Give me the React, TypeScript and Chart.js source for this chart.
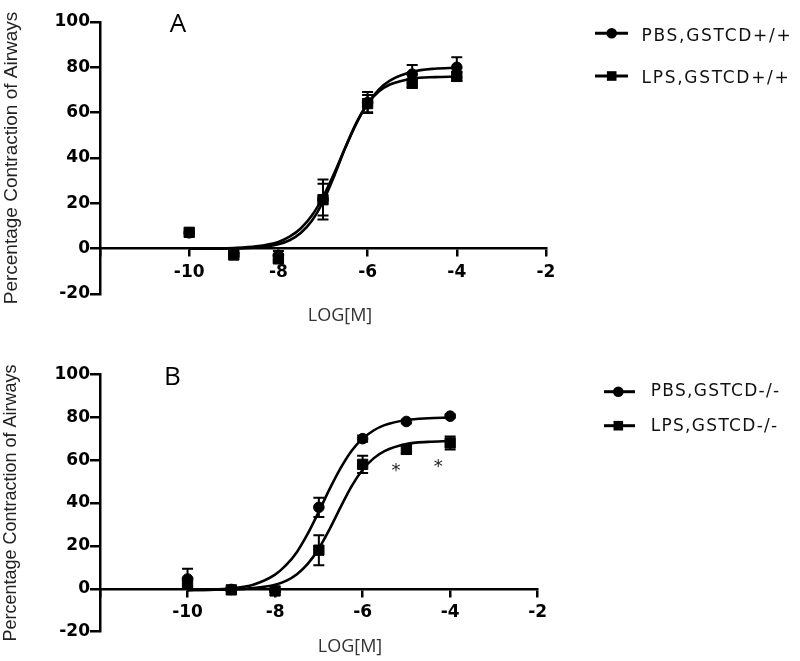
import React, { useEffect, useRef } from 'react';
import { Chart, registerables } from 'chart.js';

Chart.register(...registerables);

// ---------- data ----------
const doses = [-10, -9, -8, -7, -6, -5, -4];

const pbsA = [7.0, -2.5, -3.0, 21.7, 64.5, 77.0, 80.0];
const pbsAErr = [0, 0.8, 2.0, 8.8, 4.6, 4.0, 4.5];
const lpsA = [7.2, -2.8, -4.5, 21.6, 64.0, 73.0, 76.0];
const lpsAErr = [0, 0.8, 1.5, 7.0, 3.8, 2.0, 2.0];

const pbsB = [4.6, -0.3, -0.8, 38.0, 70.0, 78.0, 80.5];
const pbsBErr = [4.7, 0.5, 0.5, 4.5, 1.5, 0.8, 0.8];
const lpsB = [3.0, -0.5, -1.0, 18.0, 58.0, 65.0, 68.0];
const lpsBErr = [2.0, 0.5, 0.5, 7.0, 4.0, 2.0, 3.0];

const curveX = [-10, -9.5, -9, -8.5, -8, -7.75, -7.5, -7.25, -7, -6.75, -6.5, -6.25, -6, -5.75, -5.5, -5, -4.5, -4];
const pbsACurve = [0, 0.1, 0.3, 1.0, 3.0, 5.3, 8.9, 14.6, 22.8, 33.2, 44.6, 55.3, 63.9, 70.1, 74.1, 78.0, 79.4, 79.8];
const lpsACurve = [0, 0, 0.1, 0.5, 2.0, 3.7, 6.9, 12.3, 20.7, 32.0, 44.5, 55.6, 63.9, 69.3, 72.4, 75.0, 75.7, 75.9];
const pbsBCurve = [-0.6, -0.4, 0.2, 1.9, 6.6, 11.0, 17.2, 25.8, 36.0, 46.7, 56.4, 64.4, 70.0, 73.8, 76.3, 78.7, 79.5, 79.8];
const lpsBCurve = [-0.6, -0.5, -0.3, 0.3, 1.9, 3.7, 6.8, 11.7, 18.8, 28.0, 38.2, 47.9, 55.5, 60.8, 64.2, 67.5, 68.5, 68.9];

const xTickValues = [-12, -10, -8, -6, -4, -2];
const yTickValues = [-20, 0, 20, 40, 60, 80, 100];

const labelsA = ['PBS,GSTCD+/+', 'LPS,GSTCD+/+'];
const labelsB = ['PBS,GSTCD-/-', 'LPS,GSTCD-/-'];

const starsB = [
  { x: -5.24, y: 57.5 },
  { x: -4.27, y: 59.5 },
];

const yTitle = 'Percentage Contraction of Airways';
const xTitle = 'LOG[M]';

// ---------- plugins ----------
const errorBarPlugin = {
  id: 'errorBars',
  beforeDatasetsDraw(chart: any) {
    const { ctx } = chart;
    const xs = chart.scales.x;
    const ys = chart.scales.y;
    ctx.save();
    ctx.strokeStyle = '#000';
    ctx.lineWidth = 2;
    chart.data.datasets.forEach((ds: any, di: number) => {
      if (!ds.errors || !chart.isDatasetVisible(di)) return;
      ds.data.forEach((p: any, i: number) => {
        const e = ds.errors[i];
        if (!e) return;
        const px = xs.getPixelForValue(p.x);
        const yt = ys.getPixelForValue(p.y + e);
        const yb = ys.getPixelForValue(p.y - e);
        ctx.beginPath();
        ctx.moveTo(px, yt);
        ctx.lineTo(px, yb);
        ctx.moveTo(px - 5.5, yt);
        ctx.lineTo(px + 5.5, yt);
        ctx.moveTo(px - 5.5, yb);
        ctx.lineTo(px + 5.5, yb);
        ctx.stroke();
      });
    });
    ctx.restore();
  },
};

type LegendPos = {
  x0: number; x1: number; mx: number; symY: number[];
  textX: number; textY: number[]; spacing: number;
};

function makeTextPlugin(p: {
  letter: string; letterX: number; letterY: number;
  xTitleX: number; xTitleY: number; stars: { x: number; y: number }[];
  labels: string[]; legend: LegendPos;
}) {
  return {
    id: 'panelText',
    afterDraw(chart: any) {
      const { ctx } = chart;
      ctx.save();
      ctx.textAlign = 'center';
      ctx.textBaseline = 'alphabetic';
      ctx.fillStyle = '#000';
      ctx.font = "26px 'Open Sans', sans-serif";
      ctx.fillText(p.letter, p.letterX, p.letterY);
      ctx.fillStyle = '#333';
      ctx.font = "18px 'Open Sans', sans-serif";
      ctx.fillText(xTitle, p.xTitleX, p.xTitleY);
      ctx.font = "18px 'DejaVu Sans', sans-serif";
      ctx.fillStyle = '#222';
      const xs = chart.scales.x;
      const ys = chart.scales.y;
      for (const s of p.stars) {
        ctx.fillText('*', xs.getPixelForValue(s.x), ys.getPixelForValue(s.y) + 0.59 * 18);
      }
      // legend
      const L = p.legend;
      p.labels.forEach((label, i) => {
        const y = L.symY[i];
        ctx.strokeStyle = '#000';
        ctx.fillStyle = '#000';
        ctx.lineWidth = 3;
        ctx.beginPath();
        ctx.moveTo(L.x0, y);
        ctx.lineTo(L.x1, y);
        ctx.stroke();
        if (i === 0) {
          ctx.beginPath();
          ctx.arc(L.mx, y, 5.3, 0, Math.PI * 2);
          ctx.fill();
        } else {
          ctx.fillRect(L.mx - 4.8, y - 4.8, 9.6, 9.6);
        }
        ctx.fillStyle = '#111';
        ctx.textAlign = 'left';
        ctx.textBaseline = 'middle';
        ctx.font = "17px 'DejaVu Sans', sans-serif";
        try {
          (ctx as any).letterSpacing = L.spacing + 'px';
        } catch (e) {
          /* ignore */
        }
        ctx.fillText(label, L.textX, L.textY[i]);
        try {
          (ctx as any).letterSpacing = '0px';
        } catch (e) {
          /* ignore */
        }
      });
      ctx.restore();
    },
  };
}

type PanelSpec = {
  top: number;
  height: number;
  letter: string;
  letterX: number;
  letterY: number;
  xTitleX: number;
  xTitleY: number;
  stars: { x: number; y: number }[];
  yTitleSize: number;
  padTop: number;
  padBottom: number;
  padRight: number;
  legend: LegendPos;
  labels: string[];
  pbs: number[];
  pbsErr: number[];
  lps: number[];
  lpsErr: number[];
  pbsCurve: number[];
  lpsCurve: number[];
};

const tickFont = { family: "'DejaVu Sans', sans-serif", size: 17, weight: 'bold' as const };

function Panel({ spec }: { spec: PanelSpec }) {
  const ref = useRef<HTMLCanvasElement>(null);
  useEffect(() => {
    const pts = (ys: number[]) => doses.map((d, i) => ({ x: d, y: ys[i] }));
    const cpts = (ys: number[]) => curveX.map((d, i) => ({ x: d, y: ys[i] }));
    const chart = new Chart(ref.current!, {
      type: 'scatter',
      data: {
        datasets: [
          {
            label: spec.labels[0],
            data: pts(spec.pbs),
            errors: spec.pbsErr,
            showLine: false,
            pointStyle: 'circle',
            pointRadius: 5.3,
            pointBorderWidth: 1,
            backgroundColor: '#000',
            borderColor: '#000',
            order: 0,
          } as any,
          {
            label: spec.labels[1],
            data: pts(spec.lps),
            errors: spec.lpsErr,
            showLine: false,
            pointStyle: 'rect',
            pointRadius: 7.3,
            pointBorderWidth: 1,
            backgroundColor: '#000',
            borderColor: '#000',
            order: 0,
          } as any,
          {
            label: spec.labels[0] + ' fit',
            data: cpts(spec.pbsCurve),
            showLine: true,
            pointRadius: 0,
            borderColor: '#000',
            backgroundColor: '#000',
            borderWidth: 2.6,
            cubicInterpolationMode: 'monotone',
            fill: false,
            order: 1,
          } as any,
          {
            label: spec.labels[1] + ' fit',
            data: cpts(spec.lpsCurve),
            showLine: true,
            pointRadius: 0,
            borderColor: '#000',
            backgroundColor: '#000',
            borderWidth: 2.6,
            cubicInterpolationMode: 'monotone',
            fill: false,
            order: 1,
          } as any,
        ],
      },
      options: {
        animation: false,
        responsive: true,
        maintainAspectRatio: false,
        events: [],
        layout: { padding: { left: 0, top: spec.padTop, right: spec.padRight, bottom: spec.padBottom } },
        scales: {
          x: {
            type: 'linear',
            position: { y: 0 } as any,
            min: -12,
            max: -2,
            afterBuildTicks: (s: any) => {
              s.ticks = xTickValues.map((v) => ({ value: v }));
            },
            ticks: {
              callback: (v: any) => (v === -12 ? '' : String(v)),
              font: tickFont,
              color: '#000',
              padding: 6.5,
              maxRotation: 0,
              autoSkip: false,
            },
            grid: { display: true, drawOnChartArea: false, drawTicks: true, tickLength: 7, color: '#000', lineWidth: 2.5 },
            border: { display: true, color: '#000', width: 2.5 },
          },
          y: {
            type: 'linear',
            position: 'left',
            min: -20,
            max: 100,
            afterBuildTicks: (s: any) => {
              s.ticks = yTickValues.map((v) => ({ value: v }));
            },
            afterFit: (s: any) => {
              s.width = 100;
            },
            ticks: { font: tickFont, color: '#000', padding: 0, autoSkip: false },
            grid: { display: true, drawOnChartArea: false, drawTicks: true, tickLength: 10, color: '#000', lineWidth: 2.5 },
            border: { display: true, color: '#000', width: 2.5 },
            title: {
              display: true,
              text: yTitle,
              color: '#222',
              font: { family: "'Liberation Sans', Arial, sans-serif", size: spec.yTitleSize, weight: 'normal' },
              padding: { top: 0, bottom: 0 },
            },
          },
        } as any,
        plugins: {
          tooltip: { enabled: false },
          legend: { display: false },
        },
      } as any,
      plugins: [
        errorBarPlugin,
        makeTextPlugin({
          letter: spec.letter,
          letterX: spec.letterX,
          letterY: spec.letterY,
          xTitleX: spec.xTitleX,
          xTitleY: spec.xTitleY,
          stars: spec.stars,
          labels: spec.labels,
          legend: spec.legend,
        }),
      ] as any,
    });
    return () => chart.destroy();
  }, [spec]);
  return (
    <div style={{ position: 'absolute', left: 0, top: spec.top, width: 800, height: spec.height }}>
      <canvas ref={ref} />
    </div>
  );
}

const specA: PanelSpec = {
  top: 0,
  height: 330,
  letter: 'A',
  letterX: 178,
  letterY: 31.7,
  xTitleX: 340,
  xTitleY: 321,
  stars: [],
  yTitleSize: 19,
  padTop: 22,
  padBottom: 36,
  padRight: 254,
  legend: { x0: 595, x1: 628, mx: 611.7, symY: [33.3, 76], textX: 641.6, textY: [36.7, 79], spacing: 1.7 },
  labels: labelsA,
  pbs: pbsA,
  pbsErr: pbsAErr,
  lps: lpsA,
  lpsErr: lpsAErr,
  pbsCurve: pbsACurve,
  lpsCurve: lpsACurve,
};

const specB: PanelSpec = {
  top: 330,
  height: 331,
  letter: 'B',
  letterX: 172.5,
  letterY: 55,
  xTitleX: 350,
  xTitleY: 321.5,
  stars: starsB,
  yTitleSize: 18,
  padTop: 44.3,
  padBottom: 29.3,
  padRight: 262.3,
  legend: { x0: 604, x1: 635, mx: 618.3, symY: [61.7, 95.7], textX: 650.7, textY: [62, 96.4], spacing: 1.3 },
  labels: labelsB,
  pbs: pbsB,
  pbsErr: pbsBErr,
  lps: lpsB,
  lpsErr: lpsBErr,
  pbsCurve: pbsBCurve,
  lpsCurve: lpsBCurve,
};

export default function App() {
  return (
    <div style={{ position: 'absolute', left: 0, top: 0, width: 800, height: 661, background: '#fff' }}>
      <Panel spec={specA} />
      <Panel spec={specB} />
    </div>
  );
}
